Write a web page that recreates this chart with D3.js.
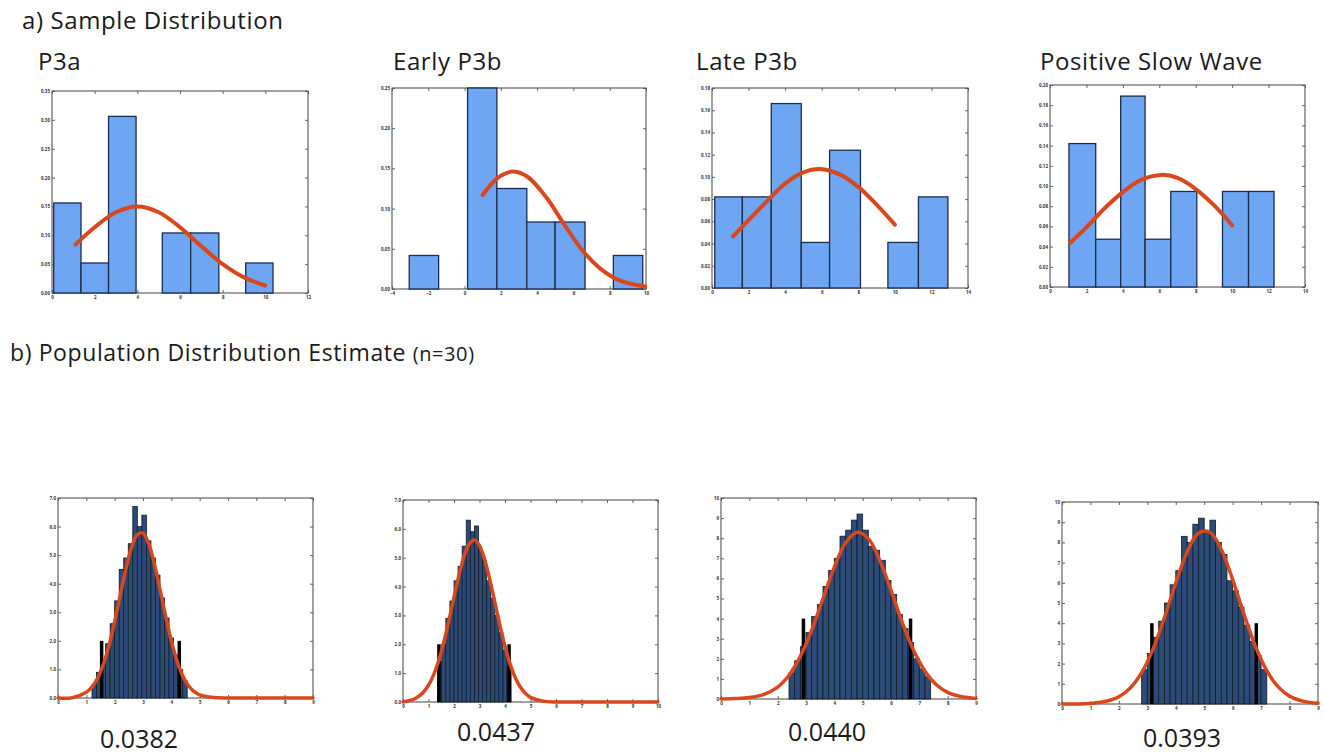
<!DOCTYPE html>
<html>
<head>
<meta charset="utf-8">
<script src="https://cdn.jsdelivr.net/npm/d3@7"></script>
<style>
  body { margin: 0; background: #fff; }
  text { font-family: "Open Sans", sans-serif; }
</style>
</head>
<body>
<svg id="chart" width="1324" height="756"></svg>
<script>
// ---- data: a) sample distributions (density histograms + normal fit read off the figure)
var sampleNames = ["P3a", "Early P3b", "Late P3b", "Positive Slow Wave"];

var p3aEdges = [0.08, 1.36, 2.65, 3.94, 5.17, 6.5, 7.82, 9.08, 10.36];
var p3aDensity = [0.156, 0.052, 0.306, 0, 0.104, 0.104, 0, 0.052];
var p3aFitX = [1.1, 2, 3, 4, 5, 6, 7, 8, 9, 10];
var p3aFitY = [0.084, 0.114, 0.140, 0.150, 0.140, 0.114, 0.081, 0.050, 0.027, 0.013];

var earlyEdges = [-3.05, -1.43, 0.165, 1.78, 3.43, 4.99, 6.64, 8.2, 9.82];
var earlyDensity = [0.0417, 0, 0.25, 0.125, 0.0833, 0.0833, 0, 0.0417];
var earlyFitX = [1.0, 1.5, 2, 2.7, 3.5, 4.5, 5.5, 6.5, 7.5, 8.5, 9.95];
var earlyFitY = [0.117, 0.131, 0.141, 0.146, 0.139, 0.114, 0.080, 0.048, 0.025, 0.011, 0.003];

var lateEdges = [0.15, 1.66, 3.24, 4.88, 6.43, 8.12, 9.62, 11.29, 12.9];
var lateDensity = [0.082, 0.082, 0.166, 0.041, 0.124, 0, 0.041, 0.082];
var lateFitX = [1.15, 2, 3, 4, 5, 5.9, 7, 8, 9, 10];
var lateFitY = [0.0465, 0.061, 0.078, 0.094, 0.104, 0.107, 0.102, 0.091, 0.075, 0.057];

var pswEdges = [1.04, 2.51, 3.88, 5.22, 6.63, 8.06, 9.47, 10.9, 12.3];
var pswDensity = [0.142, 0.0473, 0.189, 0.0473, 0.0946, 0, 0.0946, 0.0946];
var pswFitX = [1.1, 2, 3, 4, 5, 6.1, 7, 8, 9, 10];
var pswFitY = [0.0436, 0.059, 0.078, 0.094, 0.106, 0.111, 0.108, 0.097, 0.081, 0.061];

// tick values of the sample panels
var p3aXTicks = [0, 2, 4, 6, 8, 10, 12];
var p3aYTicks = [0, 0.05, 0.1, 0.15, 0.2, 0.25, 0.3, 0.35];
var earlyXTicks = [-4, -2, 0, 2, 4, 6, 8, 10];
var earlyYTicks = [0, 0.05, 0.1, 0.15, 0.2, 0.25];
var lateXTicks = [0, 2, 4, 6, 8, 10, 12, 14];
var lateYTicks = [0, 0.02, 0.04, 0.06, 0.08, 0.1, 0.12, 0.14, 0.16, 0.18];
var pswXTicks = [0, 2, 4, 6, 8, 10, 12, 14];
var pswYTicks = [0, 0.02, 0.04, 0.06, 0.08, 0.1, 0.12, 0.14, 0.16, 0.18, 0.2];

// ---- data: b) population distribution estimates (bootstrap histograms)
var popValues = ["0.0382", "0.0437", "0.0440", "0.0393"];

var p3aPopStart = 1.2, p3aPopBin = 0.16;
var p3aPopCounts = [0.45, 0.9, 1.3, 1.9, 2.6, 3.4, 4.5, 4.9, 5.4, 6.7, 6.0, 6.4, 5.5, 4.9, 4.3, 3.5, 2.8, 2.1, 1.5, 1.0, 0.6];
var p3aPopCI = [1.54, 4.28];
var p3aPopFitX = [0, 0.5, 1.0, 1.2, 1.4, 1.6, 1.8, 2.0, 2.2, 2.4, 2.6, 2.8, 3.0, 3.2, 3.4, 3.6, 3.8, 4.0, 4.2, 4.4, 4.6, 4.8, 5.0, 5.5, 6, 7, 8, 9];
var p3aPopFitY = [0, 0.01, 0.2, 0.39, 0.7, 1.18, 1.84, 2.68, 3.61, 4.53, 5.28, 5.72, 5.77, 5.4, 4.7, 3.8, 2.86, 2.0, 1.3, 0.78, 0.44, 0.23, 0.11, 0.02, 0, 0, 0, 0];

var earlyPopStart = 1.36, earlyPopBin = 0.16;
var earlyPopCounts = [1.4, 2.0, 2.9, 3.5, 4.2, 4.7, 5.4, 6.3, 5.9, 6.1, 5.3, 4.9, 4.2, 3.6, 3.0, 2.4, 1.8, 1.2];
var earlyPopCI = [1.41, 4.16];
var earlyPopFitX = [0, 0.5, 0.8, 1.0, 1.2, 1.4, 1.6, 1.8, 2.0, 2.2, 2.4, 2.6, 2.8, 3.0, 3.2, 3.4, 3.6, 3.8, 4.0, 4.2, 4.4, 4.6, 4.8, 5.0, 5.5, 6, 7, 8, 9, 10];
var earlyPopFitY = [0, 0.13, 0.34, 0.58, 0.94, 1.43, 2.07, 2.82, 3.63, 4.41, 5.06, 5.48, 5.61, 5.42, 4.94, 4.26, 3.46, 2.66, 1.93, 1.32, 0.85, 0.52, 0.30, 0.16, 0.03, 0, 0, 0, 0, 0];

var latePopStart = 2.4, latePopBin = 0.2;
var latePopCounts = [1.3, 1.9, 2.6, 3.3, 4.1, 4.7, 5.6, 6.4, 7.0, 8.1, 8.4, 8.9, 9.2, 8.4, 7.6, 7.4, 6.9, 5.9, 5.2, 4.2, 3.5, 2.8, 2.0, 1.5, 1.1];
var latePopCI = [2.91, 6.69];
var latePopFitX = [0, 0.5, 1, 1.5, 2, 2.4, 2.8, 3.2, 3.6, 4.0, 4.4, 4.8, 5.2, 5.6, 6.0, 6.4, 6.8, 7.2, 7.6, 8.0, 8.5, 9];
var latePopFitY = [0, 0.02, 0.07, 0.22, 0.59, 1.18, 2.12, 3.42, 4.99, 6.56, 7.77, 8.30, 7.98, 6.91, 5.40, 3.80, 2.41, 1.38, 0.71, 0.33, 0.11, 0.03];

var pswPopStart = 2.8, pswPopBin = 0.2;
var pswPopCounts = [1.7, 2.5, 3.3, 4.1, 5.0, 5.9, 6.6, 8.3, 8.0, 8.9, 9.2, 8.5, 9.1, 8.0, 7.4, 6.1, 5.6, 4.8, 3.9, 3.1, 2.4, 1.7];
var pswPopCI = [3.16, 6.83];
var pswPopFitX = [0, 1, 1.5, 2, 2.4, 2.8, 3.2, 3.6, 4.0, 4.4, 4.8, 5.2, 5.6, 6.0, 6.4, 6.8, 7.2, 7.6, 8.0, 8.5, 9];
var pswPopFitY = [0, 0.03, 0.12, 0.36, 0.79, 1.55, 2.72, 4.27, 5.99, 7.53, 8.46, 8.50, 7.65, 6.16, 4.44, 2.86, 1.65, 0.85, 0.39, 0.13, 0.035];

var popXTicks9 = [0, 1, 2, 3, 4, 5, 6, 7, 8, 9];
var popXTicks10 = [0, 1, 2, 3, 4, 5, 6, 7, 8, 9, 10];
var popYTicks7 = [0, 1, 2, 3, 4, 5, 6, 7];
var popYTicks10 = [0, 1, 2, 3, 4, 5, 6, 7, 8, 9, 10];

// ---- drawing
var svg = d3.select("#chart");

function frameAxes(g, x, y, xt, yt) {
  var x0 = x.range()[0], x1 = x.range()[1], y0 = y.range()[1], y1 = y.range()[0];
  g.append("g").attr("transform", "translate(0," + y1 + ")")
    .call(d3.axisBottom(x).tickValues(xt).tickSizeInner(-3).tickSizeOuter(0).tickPadding(3));
  g.append("g").attr("transform", "translate(0," + y0 + ")")
    .call(d3.axisTop(x).tickValues(xt).tickSizeInner(-3).tickSizeOuter(0).tickFormat(""));
  g.append("g").attr("transform", "translate(" + x0 + ",0)")
    .call(d3.axisLeft(y).tickValues(yt).tickSizeInner(-3).tickSizeOuter(0).tickPadding(2));
  g.append("g").attr("transform", "translate(" + x1 + ",0)")
    .call(d3.axisRight(y).tickValues(yt).tickSizeInner(-3).tickSizeOuter(0).tickFormat(""));
  g.selectAll(".domain").remove();
  g.selectAll(".tick line").attr("stroke", "#666");
  g.selectAll(".tick text").attr("font-size", "4.5px").attr("font-weight", "bold").attr("fill", "#333");
  g.append("rect")
    .attr("x", x0).attr("y", y0).attr("width", x1 - x0).attr("height", y1 - y0)
    .attr("fill", "none").attr("stroke", "#555").attr("stroke-width", 1.1);
}

function fitLine(g, x, y, xs, ys, w) {
  var pts = xs.map(function(d, i) { return [d, ys[i]]; });
  g.append("path")
    .datum(pts)
    .attr("fill", "none")
    .attr("stroke", "#d9471c")
    .attr("stroke-width", w)
    .attr("stroke-linecap", "round")
    .attr("stroke-linejoin", "round")
    .attr("d", d3.line().x(function(d) { return x(d[0]); }).y(function(d) { return y(Math.max(d[1], 0)); })
      .curve(d3.curveCatmullRom));
}

function drawSample(box, xDom, yDom, xt, yt, edges, dens, fx, fy) {
  var x = d3.scaleLinear().domain(xDom).range([box[0], box[1]]);
  var y = d3.scaleLinear().domain(yDom).range([box[3], box[2]]);
  var g = svg.append("g");
  frameAxes(g, x, y, xt, yt);
  g.selectAll(".bar")
    .data(dens)
    .enter().append("rect")
    .attr("class", "bar")
    .attr("x", function(d, i) { return x(edges[i]); })
    .attr("y", function(d) { return y(d); })
    .attr("width", function(d, i) { return x(edges[i + 1]) - x(edges[i]); })
    .attr("height", function(d) { return y(0) - y(d); })
    .attr("fill", "#6ea6f4")
    .attr("stroke", "#1b2c4c")
    .attr("stroke-width", 1.3);
  fitLine(g, x, y, fx, fy, 4);
}

function drawPop(box, xDom, yDom, xt, yt, start, bin, counts, ci, ciH, fx, fy) {
  var x = d3.scaleLinear().domain(xDom).range([box[0], box[1]]);
  var y = d3.scaleLinear().domain(yDom).range([box[3], box[2]]);
  var g = svg.append("g");
  frameAxes(g, x, y, xt, yt);
  g.selectAll(".pbar")
    .data(counts)
    .enter().append("rect")
    .attr("class", "pbar")
    .attr("x", function(d, i) { return x(start + i * bin); })
    .attr("y", function(d) { return y(d); })
    .attr("width", x(start + bin) - x(start))
    .attr("height", function(d) { return y(0) - y(d); })
    .attr("fill", "#2c4b76")
    .attr("stroke", "#111c2c")
    .attr("stroke-width", 0.8);
  g.selectAll(".ci")
    .data(ci)
    .enter().append("line")
    .attr("x1", function(d) { return x(d); })
    .attr("x2", function(d) { return x(d); })
    .attr("y1", y(0))
    .attr("y2", y(ciH))
    .attr("stroke", "#000")
    .attr("stroke-width", 3.5);
  fitLine(g, x, y, fx, fy, 3.5);
}

// titles
svg.append("text").attr("x", 22).attr("y", 29).attr("font-size", "24px").attr("letter-spacing", "0.6px")
  .attr("fill", "#1a1a1a").text("a) Sample Distribution");
var titleX = [38, 393, 696, 1040];
sampleNames.forEach(function(t, i) {
  svg.append("text").attr("x", titleX[i]).attr("y", 70).attr("font-size", "24px").attr("letter-spacing", "0.6px")
    .attr("fill", "#1a1a1a").text(t);
});
svg.append("text").attr("x", 10).attr("y", 361).attr("font-size", "23px").attr("letter-spacing", "0.6px")
  .attr("fill", "#1a1a1a")
  .text("b) Population Distribution Estimate ")
  .append("tspan").attr("font-size", "20px").text("(n=30)");

drawSample([52, 308, 91, 293], [0, 12], [0, 0.35], p3aXTicks, p3aYTicks, p3aEdges, p3aDensity, p3aFitX, p3aFitY);
drawSample([392, 646, 88, 289], [-4, 10], [0, 0.25], earlyXTicks, earlyYTicks, earlyEdges, earlyDensity, earlyFitX, earlyFitY);
drawSample([712, 968, 88, 288], [0, 14], [0, 0.18], lateXTicks, lateYTicks, lateEdges, lateDensity, lateFitX, lateFitY);
drawSample([1050, 1305, 85, 287], [0, 14], [0, 0.2], pswXTicks, pswYTicks, pswEdges, pswDensity, pswFitX, pswFitY);

drawPop([58, 313, 498, 698], [0, 9], [0, 7], popXTicks9, popYTicks7, p3aPopStart, p3aPopBin, p3aPopCounts, p3aPopCI, 2, p3aPopFitX, p3aPopFitY);
drawPop([403, 658, 500, 702], [0, 10], [0, 7], popXTicks10, popYTicks7, earlyPopStart, earlyPopBin, earlyPopCounts, earlyPopCI, 2, earlyPopFitX, earlyPopFitY);
drawPop([721, 976, 498, 699], [0, 9], [0, 10], popXTicks9, popYTicks10, latePopStart, latePopBin, latePopCounts, latePopCI, 4, latePopFitX, latePopFitY);
drawPop([1062, 1318, 502, 704], [0, 9], [0, 10], popXTicks9, popYTicks10, pswPopStart, pswPopBin, pswPopCounts, pswPopCI, 4, pswPopFitX, pswPopFitY);

var numX = [100, 457, 788, 1143], numY = [748, 741, 741, 747];
popValues.forEach(function(v, i) {
  svg.append("text").attr("x", numX[i]).attr("y", numY[i]).attr("font-size", "25px")
    .attr("fill", "#1a1a1a").text(v);
});
</script>
</body>
</html>
